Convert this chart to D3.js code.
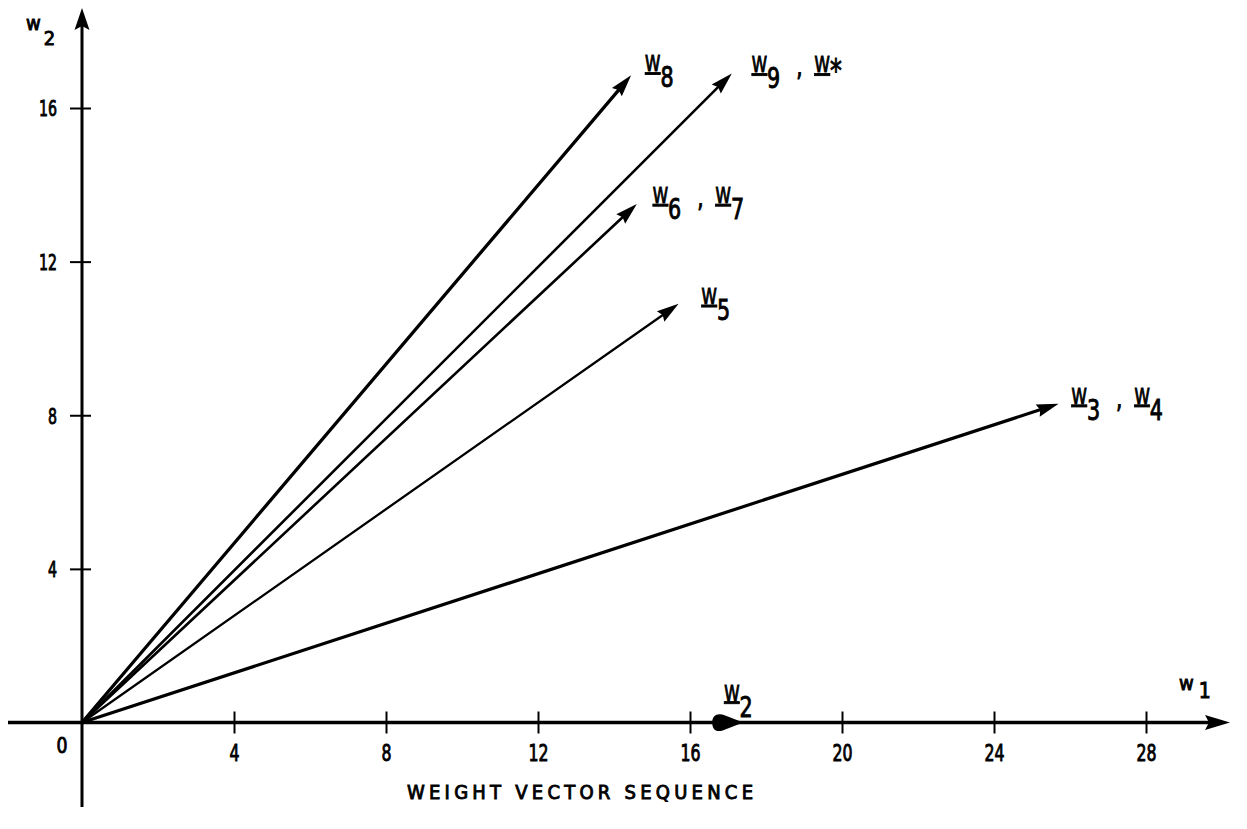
<!DOCTYPE html>
<html>
<head>
<meta charset="utf-8">
<script src="https://cdn.jsdelivr.net/npm/d3@7"></script>
<style>
  html, body { margin: 0; padding: 0; background: #fff; }
  svg { display: block; }
  text { font-family: "DejaVu Sans Condensed", "DejaVu Sans", "Liberation Sans", sans-serif; fill: #000; stroke: #000; stroke-width: 0.9px; }
</style>
</head>
<body>
<svg id="chart" width="1247" height="829"></svg>
<script>
// Weight vectors (w1, w2) visited during training
const vectorNames = ["W2", "W3,W4", "W5", "W6,W7", "W8", "W9,W*"];
const vectorW1 = [17.4, 25.7, 15.7, 14.6, 14.45, 17.1];
const vectorW2 = [0, 8.3, 10.9, 13.5, 16.85, 16.9];
// label pieces: letter + subscript, several pieces joined by commas
const vectorLabels = [
  [["W", "2"]],
  [["W", "3"], ["W", "4"]],
  [["W", "5"]],
  [["W", "6"], ["W", "7"]],
  [["W", "8"]],
  [["W", "9"], ["W", "*"]]
];
const xTicks = [4, 8, 12, 16, 20, 24, 28];
const yTicks = [4, 8, 12, 16];
const xTitle = "WEIGHT VECTOR SEQUENCE";

const svg = d3.select("#chart");
const x = d3.scaleLinear().domain([0, 28]).range([82, 1146]);
const y = d3.scaleLinear().domain([0, 16]).range([722.5, 108]);
const ox = x(0), oy = y(0);

// ---- axes -------------------------------------------------------------
const gx = svg.append("g")
  .attr("transform", `translate(0,${oy})`)
  .call(d3.axisBottom(x).tickValues(xTicks).tickSize(0).tickPadding(0).tickFormat(d3.format("d")));
gx.select(".domain").remove();
gx.selectAll(".tick line").attr("y1", -11).attr("y2", 11)
  .attr("stroke", "#000").attr("stroke-width", 2);
gx.selectAll(".tick text")
  .attr("y", 38).attr("dy", null)
  .attr("font-size", 23)
  .attr("textLength", d => String(d).length * 10)
  .attr("lengthAdjust", "spacingAndGlyphs");

const gy = svg.append("g")
  .attr("transform", `translate(${ox},0)`)
  .call(d3.axisLeft(y).tickValues(yTicks).tickSize(0).tickPadding(0).tickFormat(d3.format("d")));
gy.select(".domain").remove();
gy.selectAll(".tick line").attr("x1", -12).attr("x2", 9)
  .attr("stroke", "#000").attr("stroke-width", 2);
gy.selectAll(".tick text")
  .attr("x", -25).attr("dy", "0.36em")
  .attr("font-size", 22)
  .attr("textLength", d => String(d).length * 9)
  .attr("lengthAdjust", "spacingAndGlyphs");

// origin label
svg.append("text").attr("x", 62).attr("y", 753)
  .attr("text-anchor", "middle").attr("font-size", 22)
  .attr("textLength", 11).attr("lengthAdjust", "spacingAndGlyphs")
  .text("0");

// axis lines with arrow tips
svg.append("line").attr("x1", 8).attr("x2", 1212).attr("y1", oy).attr("y2", oy)
  .attr("stroke", "#000").attr("stroke-width", 3.4);
svg.append("path")
  .attr("d", `M1230,${oy} L1205,${oy - 7.5} L1209,${oy} L1205,${oy + 7.5} Z`)
  .attr("fill", "#000");
svg.append("line").attr("x1", ox).attr("x2", ox).attr("y1", 807).attr("y2", 24)
  .attr("stroke", "#000").attr("stroke-width", 3);
svg.append("path")
  .attr("d", `M${ox},8 L${ox - 7.5},30 L${ox},26 L${ox + 7.5},30 Z`)
  .attr("fill", "#000");

// text built from pieces: [string, fontSize, dx, dy, underline]
function richText(parent, px, py, pieces, sx) {
  const t = parent.append("text")
    .attr("transform", `translate(${px},${py}) scale(${sx},1)`)
    .attr("x", 0).attr("y", 0);
  pieces.forEach(p => {
    t.append("tspan")
      .attr("font-size", p[1])
      .attr("dx", p[2] / sx)
      .attr("dy", p[3])
      .style("text-decoration", p[4] ? "underline" : null)
      .text(p[0]);
  });
  return t;
}

// axis names
richText(svg, 26, 30, [["w", 20, 0, 0], ["2", 20, 3, 15]], 1);
richText(svg, 1179, 690, [["w", 20, 0, 0], ["1", 21, 5, 8]], 1);

// title
svg.append("text").attr("x", 407).attr("y", 799).attr("font-size", 20)
  .attr("textLength", 346).attr("lengthAdjust", "spacing").text(xTitle);

// ---- vectors ----------------------------------------------------------
const vectors = vectorNames.map((name, i) => ({
  name, w1: vectorW1[i], w2: vectorW2[i], label: vectorLabels[i]
}));

const strokeWidth = { "W2": 3, "W3,W4": 3.2, "W5": 2.3, "W6,W7": 2.6, "W8": 3.3, "W9,W*": 2.6 };
const labelOffset = {
  "W2": [-19, -22], "W3,W4": [13, 0], "W5": [23, 0],
  "W6,W7": [16, -1], "W8": [14, -4], "W9,W*": [20, -1]
};

const headLen = 22, headHalf = 6.5;
const gv = svg.append("g");

vectors.forEach(v => {
  const tx = x(v.w1), ty = y(v.w2);
  const ang = Math.atan2(ty - oy, tx - ox);
  const deg = ang * 180 / Math.PI;
  const ex = tx - (headLen - 4) * Math.cos(ang);
  const ey = ty - (headLen - 4) * Math.sin(ang);

  if (v.w2 !== 0) {
    gv.append("line")
      .attr("x1", ox).attr("y1", oy).attr("x2", ex).attr("y2", ey)
      .attr("stroke", "#000").attr("stroke-width", strokeWidth[v.name])
      .attr("stroke-linecap", "round");
    gv.append("path")
      .attr("d", `M0,0 L${-headLen},${-headHalf} L${-headLen * 0.88},0 L${-headLen},${headHalf} Z`)
      .attr("transform", `translate(${tx},${ty}) rotate(${deg})`)
      .attr("fill", "#000");
  } else {
    // vector lying on the w1 axis: rounded, bulbous tip
    gv.append("path")
      .attr("d", "M0,0 L-18,-7 C-26,-10 -31,-7 -31,0 C-31,7 -27,11 -18,7 Z")
      .attr("transform", `translate(${tx},${ty}) rotate(${deg})`)
      .attr("fill", "#000");
  }

  // label: underlined W, large subscript, comma between pairs
  const [dx, dy] = labelOffset[v.name];
  const pieces = [];
  v.label.forEach((part, k) => {
    if (k > 0) {
      pieces.push([",", 27, 16, -12, false]);
      pieces.push([part[0], 21, 12, -4, true]);
    } else {
      pieces.push([part[0], 21, 0, 0, true]);
    }
    if (part[1] === "*") {
      pieces.push(["*", 32, 0, 9, false]);
    } else {
      pieces.push([part[1], 28, 0, 16, false]);
    }
  });
  richText(gv, tx + dx, ty + dy, pieces, 0.82);
});
</script>
</body>
</html>
